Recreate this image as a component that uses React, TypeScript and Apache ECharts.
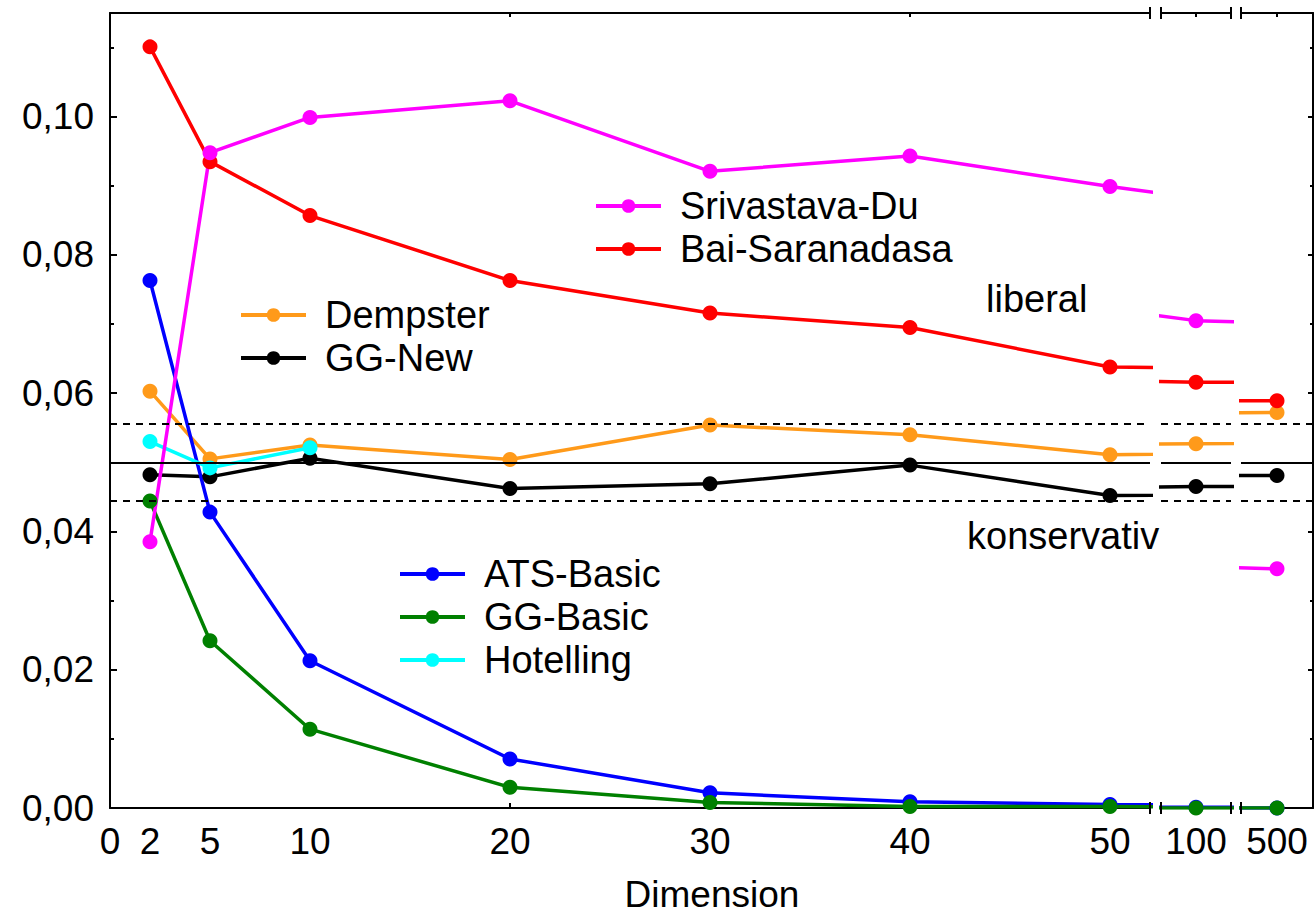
import React, { useEffect, useRef } from "react";
import * as echarts from "echarts";

// ---------- data ----------
const dims = [2, 5, 10, 20, 30, 40, 50, 100, 500];
const srivastavaDu = [0.0385, 0.0948, 0.0999, 0.1023, 0.0921, 0.0943, 0.0899, 0.0705, 0.0346];
const baiSaranadasa = [0.1101, 0.0935, 0.0857, 0.0763, 0.0716, 0.0695, 0.0638, 0.0616, 0.0589];
const dempster = [0.0603, 0.0505, 0.0525, 0.0504, 0.0554, 0.054, 0.0511, 0.0527, 0.0572];
const ggNew = [0.0482, 0.0479, 0.0506, 0.0462, 0.0469, 0.0496, 0.0452, 0.0465, 0.0481];
const atsBasic = [0.0763, 0.0428, 0.0213, 0.0071, 0.0022, 0.0009, 0.0005, 0.0001, 0.0];
const ggBasic = [0.0444, 0.0242, 0.0114, 0.003, 0.0008, 0.0002, 0.0002, 0.0, 0.0];
const hotelling = [0.053, 0.0492, 0.0521, null, null, null, null, null, null];

const refSolid = 0.05;
const refUpper = 0.0556;
const refLower = 0.0444;

// tick labels / tick values
const xLabels1 = [0, 2, 5, 10, 20, 30, 40, 50];
const xTicks1 = [20, 40];
const xLabels2 = [100];
const xLabels3 = [500];
const yMajor = [0, 0.02, 0.04, 0.06, 0.08, 0.1];
const yMinor = [0.01, 0.03, 0.05, 0.07, 0.09, 0.11];

const seriesDefs = [
  { name: "Dempster", values: dempster, color: "#ff9a1a" },
  { name: "GG-New", values: ggNew, color: "#000000" },
  { name: "ATS-Basic", values: atsBasic, color: "#0000ff" },
  { name: "GG-Basic", values: ggBasic, color: "#008000" },
  { name: "Hotelling", values: hotelling, color: "#00ffff" },
  { name: "Bai-Saranadasa", values: baiSaranadasa, color: "#ff0000" },
  { name: "Srivastava-Du", values: srivastavaDu, color: "#ff00ff" },
];

// ---------- layout ----------
const FONT = "'Liberation Sans', Arial, Helvetica, sans-serif";
const TOP = 13;
const HEIGHT = 795;
const Y_MAX = 0.115;
const segs = [
  { min: 0, max: 52, left: 110, width: 1040, labels: xLabels1, ticks: xTicks1 },
  { min: 98.25, max: 101.75, left: 1161, width: 70, labels: xLabels2, ticks: xLabels2 },
  { min: 498.2, max: 501.8, left: 1241, width: 72, labels: xLabels3, ticks: xLabels3 },
];

const fmtY = (v: number) => v.toFixed(2).replace(".", ",");

export default function App() {
  const ref = useRef<HTMLDivElement>(null);

  useEffect(() => {
    if (!ref.current) return;
    const chart = echarts.init(ref.current, undefined, { renderer: "svg" });

    const axisLine = { show: true, onZero: false, lineStyle: { color: "#000", width: 2 } };

    const grid = segs.map((s) => ({ left: s.left, width: s.width, top: TOP, height: HEIGHT }));

    const xAxis: any[] = [];
    segs.forEach((s, i) => {
      xAxis.push({
        type: "value",
        gridIndex: i,
        position: "bottom",
        min: s.min,
        max: s.max,
        axisLine,
        splitLine: { show: false },
        axisTick: { show: true, inside: true, length: 5, customValues: s.ticks, lineStyle: { color: "#000", width: 2 } },
        axisLabel: {
          show: true,
          customValues: s.labels,
          margin: 15,
          fontSize: 37,
          fontFamily: FONT,
          color: "#000",
          formatter: (v: number) => String(v),
        },
      });
      xAxis.push({
        type: "value",
        gridIndex: i,
        position: "top",
        min: s.min,
        max: s.max,
        axisLine,
        splitLine: { show: false },
        axisTick: { show: true, inside: true, length: 4, customValues: s.ticks, lineStyle: { color: "#000", width: 2 } },
        axisLabel: { show: false },
      });
    });

    const yAxis: any[] = [
      {
        type: "value",
        gridIndex: 0,
        position: "left",
        min: 0,
        max: Y_MAX,
        interval: 0.02,
        axisLine,
        splitLine: { show: false },
        axisTick: { show: true, inside: true, length: 7, customValues: yMajor, lineStyle: { color: "#000", width: 2 } },
        axisLabel: {
          customValues: yMajor,
          margin: 16,
          fontSize: 37,
          fontFamily: FONT,
          color: "#000",
          formatter: fmtY,
        },
      },
      {
        type: "value",
        gridIndex: 0,
        position: "left",
        min: 0,
        max: Y_MAX,
        axisLine: { show: false, onZero: false },
        splitLine: { show: false },
        axisTick: { show: true, inside: true, length: 4, customValues: yMinor, lineStyle: { color: "#000", width: 2 } },
        axisLabel: { show: false },
      },
      {
        type: "value",
        gridIndex: 1,
        min: 0,
        max: Y_MAX,
        show: false,
      },
      {
        type: "value",
        gridIndex: 2,
        position: "right",
        min: 0,
        max: Y_MAX,
        axisLine,
        splitLine: { show: false },
        axisTick: { show: true, inside: true, length: 5, customValues: yMajor, lineStyle: { color: "#000", width: 2 } },
        axisLabel: { show: false },
      },
      {
        type: "value",
        gridIndex: 2,
        position: "right",
        min: 0,
        max: Y_MAX,
        axisLine: { show: false, onZero: false },
        splitLine: { show: false },
        axisTick: { show: true, inside: true, length: 3, customValues: yMinor, lineStyle: { color: "#000", width: 2 } },
        axisLabel: { show: false },
      },
    ];
    const yIdx = [0, 2, 3];

    const series: any[] = [];
    segs.forEach((s, i) => {
      seriesDefs.forEach((d, k) => {
        const data = dims
          .map((x, j) => [x, d.values[j]])
          .filter((p) => p[1] !== null && p[1] !== undefined);
        const item: any = {
          type: "line",
          name: d.name,
          xAxisIndex: 2 * i,
          yAxisIndex: yIdx[i],
          data,
          clip: true,
          symbol: "circle",
          symbolSize: 15,
          showSymbol: true,
          lineStyle: { color: d.color, width: 3.5 },
          itemStyle: { color: d.color, borderWidth: 0 },
          emphasis: { disabled: true },
        };
        if (k === 0) {
          item.markLine = {
            silent: true,
            precision: 4,
            symbol: ["none", "none"],
            label: { show: false },
            lineStyle: { color: "#000", width: 2 },
            data: [
              { yAxis: refSolid, lineStyle: { type: "solid", color: "#000", width: 2 } },
              { yAxis: refUpper, lineStyle: { type: [7, 6], color: "#000", width: 2 } },
              { yAxis: refLower, lineStyle: { type: [7, 6], color: "#000", width: 2 } },
            ],
          };
        }
        series.push(item);
      });
    });

    const legendBase = {
      orient: "vertical",
      padding: 0,
      itemWidth: 65,
      itemHeight: 17,
      itemGap: 3,
      selectedMode: false,
      lineStyle: { width: 4 },
      textStyle: { fontSize: 38, lineHeight: 40, fontFamily: FONT, color: "#000", padding: [0, 0, 0, 14] },
    };

    const bottomY = TOP + HEIGHT;
    const capXs = [segs[0].left + segs[0].width, segs[1].left, segs[1].left + segs[1].width, segs[2].left];
    const caps: any[] = [];
    capXs.forEach((x) => {
      [TOP, bottomY].forEach((y) => {
        caps.push({
          type: "line",
          shape: { x1: x, y1: y - 6, x2: x, y2: y + 6 },
          style: { stroke: "#000", lineWidth: 2 },
          z: 100,
        });
      });
    });

    chart.setOption({
      animation: false,
      backgroundColor: "#fff",
      grid,
      xAxis,
      yAxis,
      series,
      legend: [
        { ...legendBase, data: ["Srivastava-Du", "Bai-Saranadasa"], left: 594, top: 186 },
        { ...legendBase, data: ["Dempster", "GG-New"], left: 239, top: 295 },
        { ...legendBase, data: ["ATS-Basic", "GG-Basic", "Hotelling"], left: 398, top: 554 },
      ],
      graphic: [
        ...caps,
        {
          type: "text",
          left: 986,
          top: 280,
          style: { text: "liberal", font: `38px ${FONT}`, fill: "#000" },
        },
        {
          type: "text",
          left: 967,
          top: 517,
          style: { text: "konservativ", font: `38px ${FONT}`, fill: "#000" },
        },
        {
          type: "text",
          x: 712,
          y: 894,
          style: {
            text: "Dimension",
            font: `37px ${FONT}`,
            lineHeight: 30,
            fill: "#000",
            align: "center",
            verticalAlign: "middle",
          },
        },
      ],
    });

    return () => chart.dispose();
  }, []);

  return (
    <div
      ref={ref}
      style={{ position: "fixed", left: 0, top: 0, width: 1316, height: 915, background: "#fff" }}
    />
  );
}
